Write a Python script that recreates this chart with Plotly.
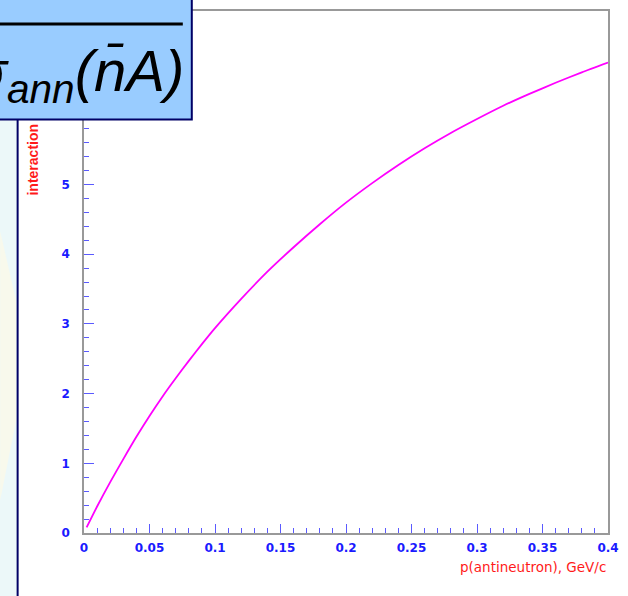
import plotly.graph_objects as go

# Data
p_antineutron = [0.002, 0.01, 0.02, 0.03, 0.04, 0.05, 0.06, 0.07, 0.08, 0.09, 0.10,
                 0.12, 0.14, 0.16, 0.18, 0.20, 0.22, 0.24, 0.26, 0.28, 0.30,
                 0.32, 0.34, 0.36, 0.38, 0.40]
sigma_interaction = [0.08, 0.38, 0.73, 1.06, 1.38, 1.68, 1.96, 2.22, 2.47, 2.71, 2.94,
                     3.36, 3.75, 4.10, 4.43, 4.74, 5.02, 5.28, 5.52, 5.74, 5.94,
                     6.13, 6.30, 6.46, 6.61, 6.75]
x_ticks = [0, 0.05, 0.1, 0.15, 0.2, 0.25, 0.3, 0.35, 0.4]
x_tick_text = ["0", "0.05", "0.1", "0.15", "0.2", "0.25", "0.3", "0.35", "0.4"]
y_ticks = [0, 1, 2, 3, 4, 5]  # 6 and 7 lie behind the formula box

W, H = 628, 596
L, R, T, B = 84, 19, 9, 63
pw, ph = W - L - R, H - T - B


def px(x):
    return (x - L) / pw


def py(y):
    return (H - B - y) / ph


fig = go.Figure()
fig.add_trace(go.Scatter(x=p_antineutron, y=sigma_interaction, mode="lines",
                         line=dict(color="#ff00ff", width=1.8, shape="spline", smoothing=0.6),
                         showlegend=False))

tickfont = dict(family="DejaVu Sans", size=12, color="#1a1aff", weight="bold")
fig.update_xaxes(range=[0, 0.4], tickvals=x_ticks, ticktext=x_tick_text,
                 ticks="inside", ticklen=9, tickcolor="#5a5aff", tickwidth=1,
                 minor=dict(dtick=0.01, ticks="inside", ticklen=5, tickcolor="#5a5aff"),
                 showgrid=False, zeroline=False, showline=True, linecolor="#999999",
                 linewidth=1.5, mirror=True, tickfont=tickfont, ticklabelstandoff=3)
fig.update_yaxes(range=[0, 7.49], tickvals=y_ticks, ticks="inside",
                 ticklen=10, tickcolor="#5a5aff", tickwidth=1,
                 minor=dict(dtick=0.2, ticks="inside", ticklen=5, tickcolor="#5a5aff"),
                 showgrid=False, zeroline=False, showline=True, linecolor="#999999",
                 linewidth=1.5, mirror=True, tickfont=tickfont, ticklabelstandoff=10)

shapes = [
    # left light strip
    dict(type="rect", xref="paper", yref="paper", x0=px(-5), x1=px(18), y0=py(600), y1=py(118),
         fillcolor="#ecf8f9", line=dict(width=0), layer="below"),
    dict(type="path", xref="paper", yref="paper",
         path=f"M {px(0)} {py(230)} L {px(16)} {py(300)} L {px(16)} {py(420)} L {px(0)} {py(500)} Z",
         fillcolor="#f8f9ec", line=dict(width=0), layer="below"),
    # navy vertical line
    dict(type="line", xref="paper", yref="paper", x0=px(17.5), x1=px(17.5), y0=py(600), y1=py(118),
         line=dict(color="#000066", width=2), layer="above"),
    # formula box
    dict(type="rect", xref="paper", yref="paper", x0=px(-5), x1=px(192), y0=py(118), y1=py(-5),
         fillcolor="#99ccff", line=dict(color="#000066", width=2), layer="above"),
    dict(type="line", xref="paper", yref="paper", x0=px(-5), x1=px(183), y0=py(22), y1=py(22),
         line=dict(color="#000000", width=3), layer="above"),
]

annotations = [
    dict(xref="paper", yref="paper", x=px(186), y=py(73), xanchor="right", yanchor="middle",
         text="<i>σ<sub>ann</sub>(n̄A)</i>", showarrow=False,
         font=dict(family="Liberation Sans", size=58, color="#000000")),
    dict(xref="paper", yref="paper", x=px(33), y=py(158), xanchor="center", yanchor="middle",
         text="interaction", textangle=-90, showarrow=False,
         font=dict(family="Liberation Sans", size=14, color="#ff1a1a", weight="bold")),
    dict(xref="paper", yref="paper", x=px(609), y=py(567), xanchor="right", yanchor="middle",
         text="p(antineutron), GeV/c", showarrow=False,
         font=dict(family="DejaVu Sans", size=13.5, color="#ff1a1a")),
]

fig.update_layout(width=W, height=H, margin=dict(l=L, r=R, t=T, b=B),
                  paper_bgcolor="white", plot_bgcolor="white",
                  shapes=shapes, annotations=annotations)

fig.write_html("out.html")
